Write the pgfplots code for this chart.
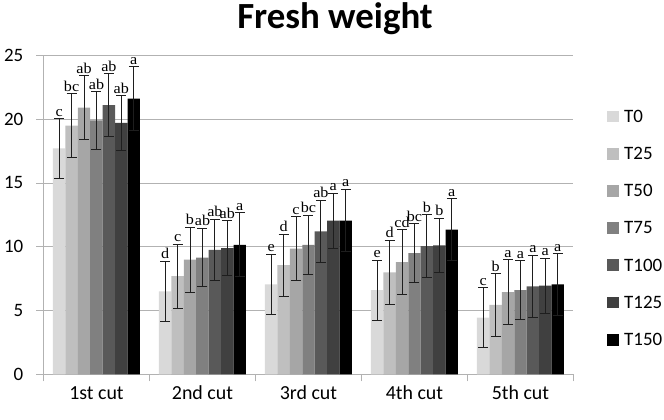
\documentclass[border=0pt]{standalone}
\usepackage{fontspec}
\setmainfont{Carlito}
\newfontfamily\tnr[FakeStretch=1.08]{Liberation Serif}
\usepackage{pgfplots}
\usepackage{pgfplotstable}
\pgfplotsset{compat=1.18}

\definecolor{cA}{RGB}{217,217,217}
\definecolor{cB}{RGB}{191,191,191}
\definecolor{cC}{RGB}{166,166,166}
\definecolor{cD}{RGB}{128,128,128}
\definecolor{cE}{RGB}{89,89,89}
\definecolor{cF}{RGB}{64,64,64}
\definecolor{cG}{RGB}{0,0,0}
\definecolor{gridc}{RGB}{178,178,178}
\definecolor{errc}{RGB}{30,30,30}

% x = cut (0..4), y = mean, e = error, l = letter
\pgfplotstableread{
x y e l
0 17.7 2.35 c
1 6.5 2.35 d
2 7.05 2.35 e
3 6.6 2.35 e
4 4.45 2.35 c
}\tA
\pgfplotstableread{
x y e l
0 19.5 2.5 bc
1 7.7 2.5 c
2 8.55 2.45 d
3 8.0 2.5 d
4 5.45 2.45 b
}\tB
\pgfplotstableread{
x y e l
0 20.9 2.5 ab
1 9.0 2.55 b
2 9.85 2.5 c
3 8.8 2.55 cd
4 6.45 2.55 a
}\tC
\pgfplotstableread{
x y e l
0 19.9 2.25 ab
1 9.15 2.3 ab
2 10.15 2.3 bc
3 9.5 2.3 bc
4 6.6 2.3 a
}\tD
\pgfplotstableread{
x y e l
0 21.1 2.45 ab
1 9.75 2.4 ab
2 11.2 2.45 ab
3 10.05 2.45 b
4 6.9 2.45 a
}\tE
\pgfplotstableread{
x y e l
0 19.7 2.15 ab
1 9.9 2.15 ab
2 12.05 2.15 a
3 10.1 2.15 b
4 6.95 2.15 a
}\tF
\pgfplotstableread{
x y e l
0 21.6 2.5 a
1 10.15 2.5 a
2 12.05 2.45 a
3 11.35 2.4 a
4 7.05 2.4 a
}\tG

\pgfplotsset{
  mybar/.style={
    fill=#1, draw=none,
    error bars/.cd, y dir=both, y explicit,
      error bar style={line width=0.9bp, draw=errc},
      error mark options={line width=0.9bp, draw=errc, mark size=5bp, rotate=90},
    /pgfplots/.cd,
  },
}

\begin{document}
\begin{tikzpicture}[x=1bp,y=1bp]
\useasboundingbox (0,0) rectangle (664,419);
\node[anchor=base, font=\fontsize{37}{40}\selectfont\bfseries] at (335,390) {Fresh weight};
\begin{axis}[
  at={(41,35)}, anchor=south west,
  scale only axis, width=530bp, height=319bp,
  ybar=0pt, bar width=12.43bp,
  xmin=-0.5, xmax=4.5, ymin=0, ymax=25,
  enlarge x limits=false,
  axis lines=left,
  axis line style={-, draw=gridc, line width=0.8bp},
  ytick={0,5,10,15,20,25},
  ymajorgrids, grid style={draw=gridc, line width=0.8bp},
  xtick={-0.5,0.5,1.5,2.5,3.5,4.5}, xticklabels={},
  extra x ticks={0,1,2,3,4},
  extra x tick labels={1st cut,2nd cut,3rd cut,4th cut,5th cut},
  extra x tick style={major tick length=0pt, grid=none},
  tick align=outside, major tick length=7bp,
  tick style={draw=gridc, line width=0.8bp},
  /pgf/number format/assume math mode=true,
  tick label style={font=\fontsize{19}{21}\selectfont},
  xticklabel style={anchor=base, yshift=-25.5bp, font=\fontsize{20}{22}\selectfont},
  yticklabel style={anchor=east, inner sep=0pt, xshift=-13bp},
  point meta=explicit symbolic,
  nodes near coords,
  visualization depends on={\thisrow{e} \as \myerr},
  every node near coord/.append style={
    shift={(axis direction cs:0,\myerr)},
    anchor=base, yshift=2.5bp, inner sep=0pt,
    font=\tnr\fontsize{15}{15}\selectfont, text=black},
  legend style={
    at={(1.0642,0.8307)}, anchor=north west,
    draw=none, fill=none, inner sep=0pt, outer sep=0pt,
    row sep=24.2bp, column sep=5bp,
    nodes={inner sep=0pt, text height=13bp, text depth=0bp, anchor=base west},
    font=\fontsize{19}{21}\selectfont,
  },
  legend cell align=left,
  legend image code/.code={\fill[#1] (0bp,0bp) rectangle (11.7bp,11.7bp);},
]
\addplot[mybar=cA] table[x=x, y=y, y error=e, meta=l] {\tA};
\addplot[mybar=cB] table[x=x, y=y, y error=e, meta=l] {\tB};
\addplot[mybar=cC] table[x=x, y=y, y error=e, meta=l] {\tC};
\addplot[mybar=cD] table[x=x, y=y, y error=e, meta=l] {\tD};
\addplot[mybar=cE] table[x=x, y=y, y error=e, meta=l] {\tE};
\addplot[mybar=cF] table[x=x, y=y, y error=e, meta=l] {\tF};
\addplot[mybar=cG] table[x=x, y=y, y error=e, meta=l] {\tG};
\legend{T0,T25,T50,T75,T100,T125,T150}
\end{axis}
\end{tikzpicture}
\end{document}
